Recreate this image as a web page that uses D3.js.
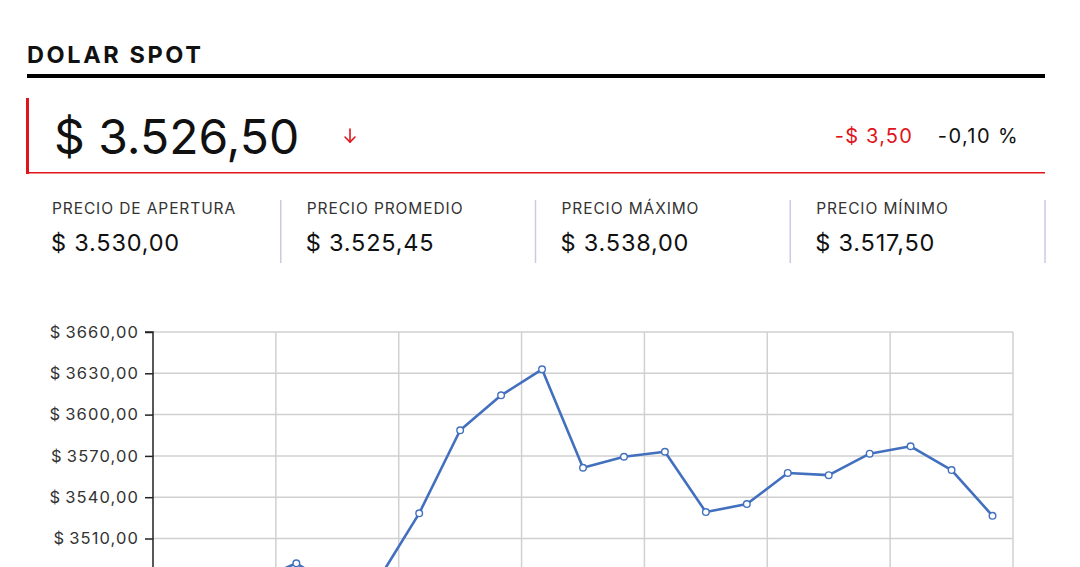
<!DOCTYPE html>
<html>
<head>
<meta charset="utf-8">
<script src="https://cdn.jsdelivr.net/npm/d3@7"></script>
<style>
  html, body { margin: 0; padding: 0; background: #fff; overflow: hidden; }
  text { font-family: Inter, "Noto Sans", sans-serif; }
</style>
</head>
<body>
<div id="chart"></div>
<script>
// header values
const title = "DOLAR SPOT";
const lastPrice = "$ 3.526,50";
const change = "-$ 3,50";
const changePct = "-0,10 %";
const statLabels = ["PRECIO DE APERTURA", "PRECIO PROMEDIO", "PRECIO MÁXIMO", "PRECIO MÍNIMO"];
const statValues = ["$ 3.530,00", "$ 3.525,45", "$ 3.538,00", "$ 3.517,50"];

// series (first points sit below the visible area)
const points = ["P1","P2","P3","P4","P5","P6","P7","P8","P9","P10","P11",
  "P12","P13","P14","P15","P16","P17","P18","P19","P20","P21"];
const prices = [3466, 3472, 3479, 3492, 3474, 3480, 3528.3, 3588.6, 3614, 3632.9, 3561.4,
  3569.4, 3573, 3529.2, 3535, 3557.6, 3556, 3571.6, 3577, 3559.7, 3526.5];
const yTicks = [3660, 3630, 3600, 3570, 3540, 3510];
const yGrid = [3660, 3630, 3600, 3570, 3540, 3510, 3480, 3450];

const width = 1080, height = 700;
const svg = d3.select("#chart").append("svg")
  .attr("width", width)
  .attr("height", height);

// title + rule
svg.append("text")
  .attr("x", 27).attr("y", 63)
  .attr("font-size", 23.5).attr("font-weight", 700)
  .attr("letter-spacing", 2.6)
  .attr("fill", "#111")
  .text(title);
svg.append("rect")
  .attr("x", 27).attr("y", 74).attr("width", 1018).attr("height", 4)
  .attr("fill", "#000");

// price box
svg.append("rect")
  .attr("x", 26).attr("y", 98).attr("width", 3).attr("height", 76)
  .attr("fill", "#e0141b");
svg.append("rect")
  .attr("x", 26).attr("y", 172).attr("width", 1019).attr("height", 1.5)
  .attr("fill", "#e0141b");
svg.append("text")
  .attr("x", 54).attr("y", 154)
  .attr("font-size", 48).attr("fill", "#111")
  .text(lastPrice);
// down arrow
const arrow = svg.append("g")
  .attr("transform", "translate(350,136)")
  .attr("stroke", "#e0141b").attr("stroke-width", 1.6).attr("fill", "none")
  .attr("stroke-linecap", "round");
arrow.append("path").attr("d", "M0,-7V6");
arrow.append("path").attr("d", "M-5,1L0,6L5,1");

svg.append("text")
  .attr("x", 913).attr("y", 143)
  .attr("text-anchor", "end")
  .attr("font-size", 20).attr("letter-spacing", 1.2).attr("fill", "#e0141b")
  .text(change);
svg.append("text")
  .attr("x", 1019).attr("y", 143)
  .attr("text-anchor", "end")
  .attr("font-size", 20).attr("letter-spacing", 1.4).attr("fill", "#111")
  .text(changePct);

// stats row
const colX = d3.scaleBand()
  .domain(statLabels)
  .range([26, 1045]);
const stat = svg.append("g").selectAll("g")
  .data(statLabels)
  .join("g")
  .attr("transform", d => `translate(${colX(d)},0)`);
stat.append("text")
  .attr("x", 26).attr("y", 214)
  .attr("font-size", 15.5).attr("letter-spacing", 0.9).attr("fill", "#333")
  .text(d => d);
stat.append("text")
  .attr("x", 25).attr("y", 251)
  .attr("font-size", 23.5).attr("letter-spacing", 0.8).attr("fill", "#111")
  .text((d, i) => statValues[i]);
stat.append("line")
  .attr("x1", colX.bandwidth()).attr("x2", colX.bandwidth())
  .attr("y1", 200).attr("y2", 263)
  .attr("stroke", "#c9cbe3").attr("stroke-width", 1.5);

// chart
const margin = {left: 153, right: 1013, top: 332};
const y = d3.scaleLinear()
  .domain([3450, 3660])
  .range([332 + 41.3 * 7, 332]);
const x = d3.scaleBand()
  .domain(points)
  .range([margin.left, margin.right]);

const gridG = svg.append("g");
gridG.selectAll("line.h")
  .data(yGrid)
  .join("line")
  .attr("class", "h")
  .attr("x1", margin.left).attr("x2", margin.right)
  .attr("y1", d => y(d)).attr("y2", d => y(d))
  .attr("stroke", "#d0d0d0").attr("stroke-width", 1.5);
gridG.selectAll("line.v")
  .data(points.filter((d, i) => i > 0 && i % 3 === 0).concat(["end"]))
  .join("line")
  .attr("class", "v")
  .attr("x1", d => d === "end" ? margin.right : x(d))
  .attr("x2", d => d === "end" ? margin.right : x(d))
  .attr("y1", y(3660)).attr("y2", height)
  .attr("stroke", "#d0d0d0").attr("stroke-width", 1.5);

const yAxis = svg.append("g")
  .attr("transform", `translate(${margin.left},0)`)
  .call(d3.axisLeft(y)
    .tickValues(yTicks)
    .tickSize(8)
    .tickPadding(6)
    .tickFormat(d => "$\u2009" + d + ",00"));
yAxis.select(".domain")
  .attr("d", `M-8,${y(3660)}H0V${height}`)
  .attr("stroke", "#222").attr("stroke-width", 1.5);
yAxis.selectAll(".tick line").attr("stroke", "#222").attr("stroke-width", 1.5);
yAxis.selectAll(".tick text")
  .attr("font-family", "Inter, 'Noto Sans', sans-serif")
  .attr("font-size", 16.5).attr("letter-spacing", 1.1).attr("fill", "#333");

const cx = d => x(d) + x.bandwidth() / 2;
const line = d3.line()
  .x((d, i) => cx(points[i]))
  .y(d => y(d));
svg.append("path")
  .datum(prices)
  .attr("fill", "none")
  .attr("stroke", "#4270bf")
  .attr("stroke-width", 2.6)
  .attr("stroke-linejoin", "round")
  .attr("d", line);
svg.append("g").selectAll("circle")
  .data(prices)
  .join("circle")
  .attr("cx", (d, i) => cx(points[i]))
  .attr("cy", d => y(d))
  .attr("r", 3.3)
  .attr("fill", "#fff")
  .attr("stroke", "#4270bf")
  .attr("stroke-width", 1.4);
</script>
</body>
</html>
